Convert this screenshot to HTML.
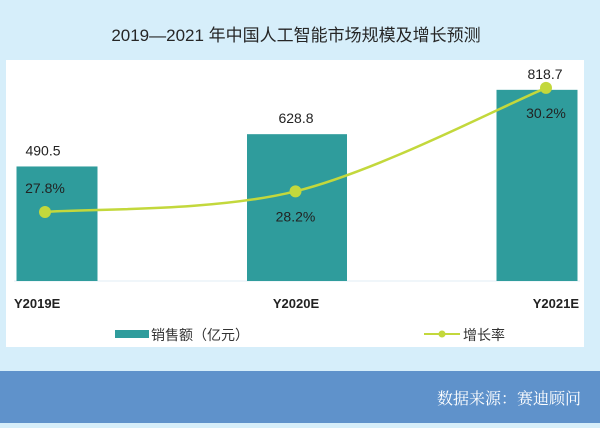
<!DOCTYPE html>
<html><head><meta charset="utf-8"><style>
body{margin:0;width:600px;height:423px;overflow:hidden;background:#d6eefa;font-family:"Liberation Sans","Noto Sans CJK SC",sans-serif;}
.serif{font-family:"Noto Serif CJK SC","Liberation Serif",serif;}
</style></head><body>
<svg width="600" height="423" xmlns="http://www.w3.org/2000/svg">
<rect x="0" y="0" width="600" height="423" fill="#d6eefa"/>
<text x="296" y="41" text-anchor="middle" font-size="17" fill="#262626">2019—2021 年中国人工智能市场规模及增长预测</text>
<rect x="6" y="60" width="578" height="287" fill="#ffffff"/>
<line x1="14" y1="281" x2="580" y2="281" stroke="#e2eef5" stroke-width="1"/>
<g id="bars"></g>
<g id="line"></g>
<g id="labels"></g>
<rect x="115" y="330" width="34" height="8" fill="#2f9c9c"/>
<text x="151" y="340" font-size="14" fill="#333">销售额（亿元）</text>
<line x1="424" y1="334" x2="460" y2="334" stroke="#c3d83c" stroke-width="2"/>
<circle cx="442" cy="334" r="3.5" fill="#c3d83c"/>
<text x="463" y="340" font-size="14" fill="#333">增长率</text>
<rect x="0" y="371" width="600" height="52" fill="#5f92cb"/>
<text class="serif" x="581" y="404" text-anchor="end" font-size="16" fill="#ffffff">数据来源：赛迪顾问</text>
</svg>
<script>
const categories=["Y2019E","Y2020E","Y2021E"];
const sales=[490.5,628.8,818.7];
const salesLabels=["490.5","628.8","818.7"];
const growth=[27.8,28.2,30.2];
const growthLabels=["27.8%","28.2%","30.2%"];
const NS="http://www.w3.org/2000/svg";
const baseY=281;
function yBar(v){return baseY-v*0.2335;}
function yLine(v){return 212-(v-27.8)*51.7;}
function xPoint(i){return 45+250.5*i;}
function barCenter(i){return 57+240*i;}
function barWidth(i){return i===1?100:81;}
function mk(tag,attrs,parent){const e=document.createElementNS(NS,tag);for(const k in attrs)e.setAttribute(k,attrs[k]);parent.appendChild(e);return e;}
const gb=document.getElementById('bars'),gl=document.getElementById('line'),gt=document.getElementById('labels');
sales.forEach((v,i)=>{
  const w=barWidth(i);
  const r=mk('rect',{x:barCenter(i)-w/2,y:yBar(v),width:w,height:baseY-yBar(v),fill:'#2f9c9c'},gb);
  
  
  const t=mk('text',{x:i===0?43:(i===1?296:545),y:yBar(v)-11,'text-anchor':'middle','font-size':14,fill:'#222'},gt);
  t.textContent=salesLabels[i];
  
  
  const c=mk('text',{x:i===0?14:(i===2?579:296),y:308,'text-anchor':i===0?'start':(i===2?'end':'middle'),'font-size':13,'font-weight':'bold',fill:'#222'},gt);
  c.textContent=categories[i];
  
  
});
const pts=growth.map((v,i)=>[xPoint(i),yLine(v)]);
let d='M'+pts[0][0]+','+pts[0][1];
for(let i=0;i<pts.length-1;i++){
  const p0=pts[Math.max(0,i-1)],p1=pts[i],p2=pts[i+1],p3=pts[Math.min(pts.length-1,i+2)];
  const c1=[p1[0]+(p2[0]-p0[0])/6,p1[1]+(p2[1]-p0[1])/6];
  const c2=[p2[0]-(p3[0]-p1[0])/6,p2[1]-(p3[1]-p1[1])/6];
  d+=' C'+c1+' '+c2+' '+p2;
}
const path=mk('path',{d:d,fill:'none',stroke:'#c3d83c','stroke-width':2.5},gl);


growth.forEach((v,i)=>{
  const c=mk('circle',{cx:xPoint(i),cy:yLine(v),r:6,fill:'#c3d83c'},gl);
  
  
  const t=mk('text',{x:xPoint(i),y:i===0?yLine(v)-19:yLine(v)+30,'text-anchor':'middle','font-size':14,fill:'#222'},gt);
  t.textContent=growthLabels[i];
  
  
});
</script>
</body></html>
